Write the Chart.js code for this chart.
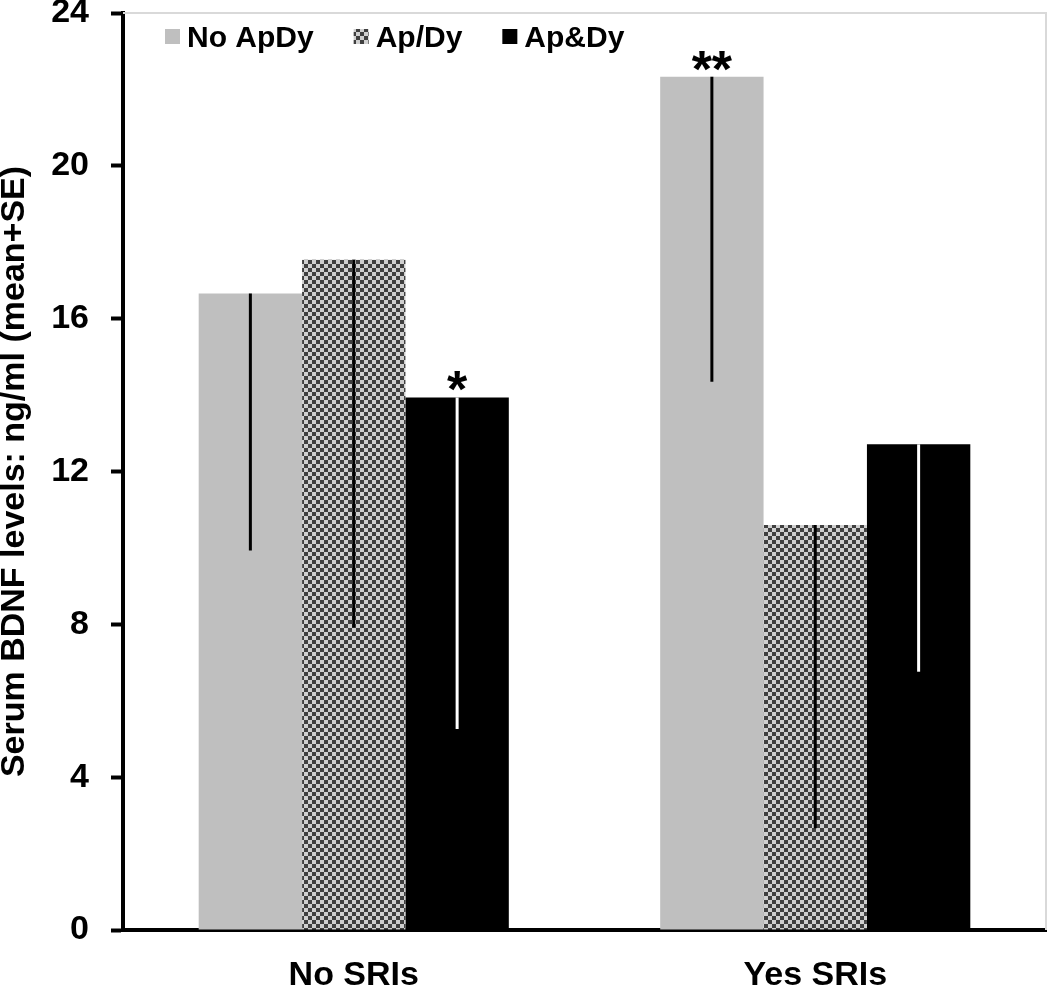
<!DOCTYPE html>
<html>
<head>
<meta charset="utf-8">
<script src="https://cdn.jsdelivr.net/npm/chart.js@4.4.1/dist/chart.umd.min.js"></script>
<style>
  body { margin: 0; background: #fff; }
  #myChart { display: block; }
</style>
</head>
<body>
<canvas id="myChart" width="1050" height="989"></canvas>
<script>
// data
const categories = ['No SRIs', 'Yes SRIs'];
const seriesNames = ['No ApDy', 'Ap/Dy', 'Ap&Dy'];
const noApDyMeans = [16.66, 22.33];
const apDyMeans = [17.54, 10.60];
const apAndDyMeans = [13.94, 12.71];
const noApDySE = [6.73, 7.98];
const apDySE = [9.62, 7.94];
const apAndDySE = [8.68, 5.95];
const noApDyStars = ['', '**'];
const apDyStars = ['', ''];
const apAndDyStars = ['*', ''];
const yTicks = [0, 4, 8, 12, 16, 20, 24];

const FONT = "'Liberation Sans', Arial, sans-serif";

// checkered fill for the Ap/Dy bars
function makeChecker() {
  const c = document.createElement('canvas');
  c.width = 8; c.height = 8;
  const g = c.getContext('2d');
  g.fillStyle = '#d0d0d0';
  g.fillRect(0, 0, 8, 8);
  g.fillStyle = '#404040';
  g.fillRect(0, 0, 4, 4);
  g.fillRect(4, 4, 4, 4);
  return g.createPattern(c, 'repeat');
}
const checker = makeChecker();

const frame = {
  id: 'frame',
  beforeDatasetsDraw(chart) {
    const {ctx, chartArea: a} = chart;
    ctx.save();
    ctx.strokeStyle = '#d9d9d9';
    ctx.lineWidth = 2;
    ctx.beginPath();
    ctx.moveTo(a.left, a.top);
    ctx.lineTo(a.right, a.top);
    ctx.lineTo(a.right, a.bottom);
    ctx.stroke();
    ctx.restore();
  }
};

const errorBars = {
  id: 'errorBars',
  afterDatasetsDraw(chart) {
    const ctx = chart.ctx;
    const y = chart.scales.y;
    chart.data.datasets.forEach(function(ds, i) {
      const meta = chart.getDatasetMeta(i);
      meta.data.forEach(function(bar, j) {
        const lo = y.getPixelForValue(ds.data[j] - ds.se[j]);
        ctx.save();
        ctx.strokeStyle = ds.errColor;
        ctx.lineWidth = 3;
        ctx.beginPath();
        ctx.moveTo(bar.x, bar.y);
        ctx.lineTo(bar.x, lo);
        ctx.stroke();
        // significance marks
        if (ds.stars[j]) {
          ctx.fillStyle = '#000';
          ctx.font = 'bold 52px ' + FONT;
          ctx.textAlign = 'center';
          ctx.textBaseline = 'alphabetic';
          ctx.fillText(ds.stars[j], bar.x, bar.y + 10);
        }
        ctx.restore();
      });
    });
  }
};

const innerLegend = {
  id: 'innerLegend',
  afterDraw(chart) {
    const {ctx, chartArea: a} = chart;
    let x = a.left + 42;
    const top = 29;
    ctx.save();
    ctx.font = 'bold 30px ' + FONT;
    ctx.textBaseline = 'middle';
    ctx.textAlign = 'left';
    chart.data.datasets.forEach(function(ds) {
      ctx.fillStyle = ds.backgroundColor;
      ctx.fillRect(x, top, 15, 15);
      ctx.fillStyle = '#000';
      ctx.fillText(ds.label, x + 22, top + 10);
      x += 22 + ctx.measureText(ds.label).width + 40;
    });
    ctx.restore();
  }
};

new Chart(document.getElementById('myChart'), {
  type: 'bar',
  data: {
    labels: categories,
    datasets: [
      { label: seriesNames[0], data: noApDyMeans, se: noApDySE, stars: noApDyStars,
        backgroundColor: '#bfbfbf', errColor: '#000' },
      { label: seriesNames[1], data: apDyMeans, se: apDySE, stars: apDyStars,
        backgroundColor: checker, errColor: '#000' },
      { label: seriesNames[2], data: apAndDyMeans, se: apAndDySE, stars: apAndDyStars,
        backgroundColor: '#000', errColor: '#fff' }
    ]
  },
  options: {
    responsive: false,
    animation: false,
    devicePixelRatio: 1,
    layout: { padding: { top: 13, right: 4, left: 0, bottom: 0 } },
    datasets: { bar: { categoryPercentage: 0.672, barPercentage: 1, borderWidth: 0 } },
    plugins: {
      legend: { display: false },
      tooltip: { enabled: false }
    },
    scales: {
      x: {
        offset: true,
        grid: { display: false, drawTicks: false },
        border: { display: true, color: '#000', width: 4 },
        ticks: { color: '#000', font: { family: FONT, size: 34, weight: 'bold' }, padding: 25 },
        afterFit(s) { s.height = 59; s.paddingLeft = 0; s.paddingRight = 0; }
      },
      y: {
        min: 0,
        max: 24,
        afterBuildTicks(s) { s.ticks = yTicks.map(v => ({ value: v })); },
        grid: { drawOnChartArea: false, drawTicks: true, tickLength: 12, tickWidth: 4, color: '#000' },
        border: { display: true, color: '#000', width: 4 },
        ticks: { color: '#000', font: { family: FONT, size: 34, weight: 'bold', lineHeight: 1 }, padding: 22 },
        title: {
          display: true,
          text: 'Serum BDNF levels: ng/ml (mean+SE)',
          color: '#000',
          font: { family: FONT, size: 34, weight: 'bold', lineHeight: 0.85 },
          padding: { top: 0, bottom: 0 }
        },
        afterFit(s) { s.width = 123; s.paddingTop = 0; s.paddingBottom = 0; }
      }
    }
  },
  plugins: [frame, errorBars, innerLegend]
});
</script>
</body>
</html>
